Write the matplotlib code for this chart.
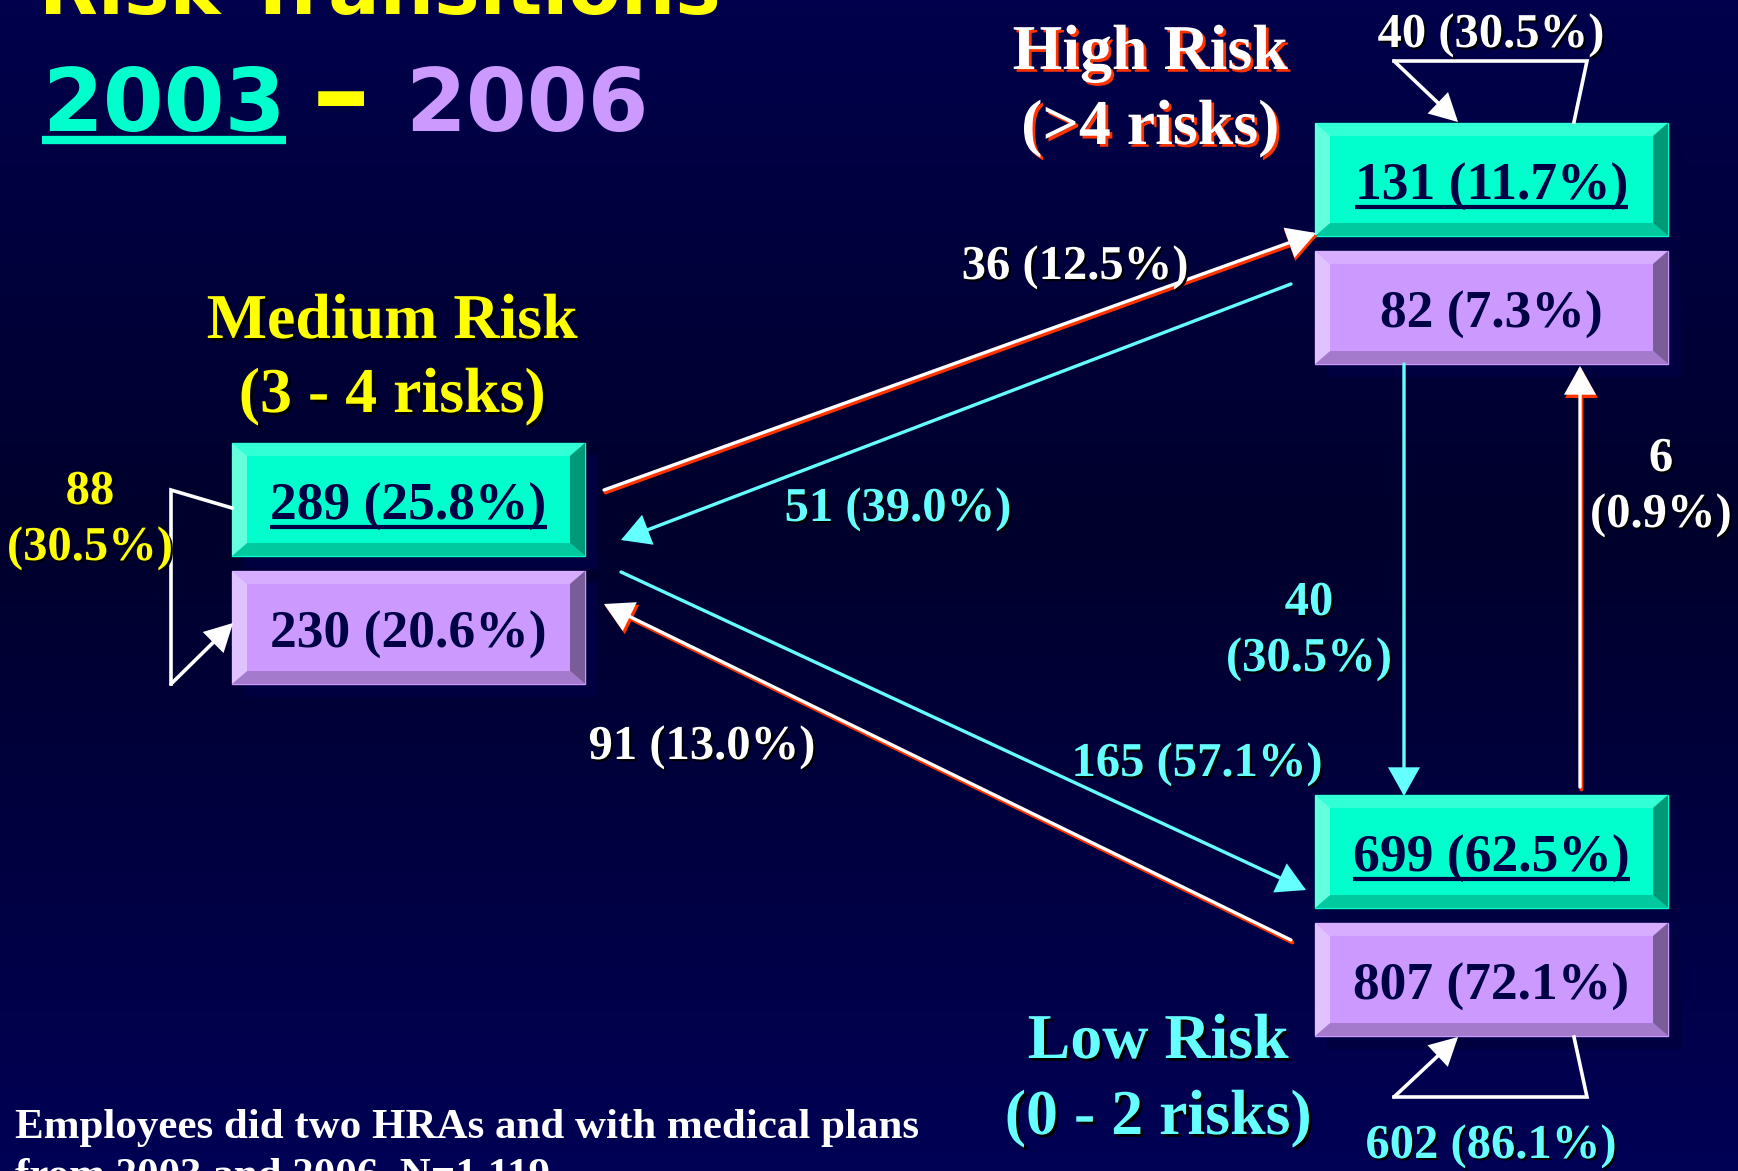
import numpy as np
import matplotlib
matplotlib.use('Agg')
import matplotlib.pyplot as plt
from matplotlib.patches import Polygon, Rectangle, FancyArrowPatch
import matplotlib.patheffects as pe

# ---- data ----
levels = ['High', 'Medium', 'Low']
level_names = ['High Risk', 'Medium Risk', 'Low Risk']
level_ranges = ['(>4 risks)', '(3 - 4 risks)', '(0 - 2 risks)']
n_2003 = [131, 289, 699]
pct_2003 = [11.7, 25.8, 62.5]
n_2006 = [82, 230, 807]
pct_2006 = [7.3, 20.6, 72.1]

trans_from = ['High', 'Medium', 'High', 'Medium', 'Medium', 'Low', 'High', 'Low', 'Low']
trans_to = ['High', 'High', 'Medium', 'Medium', 'Low', 'Medium', 'Low', 'High', 'Low']
trans_n = [40, 36, 51, 88, 165, 91, 40, 6, 602]
trans_pct = [30.5, 12.5, 39.0, 30.5, 57.1, 13.0, 30.5, 0.9, 86.1]

title = 'Risk Transitions'
year_a, year_b = '2003', '2006'
footnote = ['Employees did two HRAs and with medical plans',
            'from 2003 and 2006, N=1,119']

# ---- style ----
TEAL = '#00FFCC'
PURPLE = '#CC99FF'
CYAN = '#66FFFF'
YELLOW = '#FFFF00'
NAVY = '#000044'
RED = '#FF3300'
SERIF = 'Liberation Serif'

W, H = 1738, 1171
fig = plt.figure(figsize=(W / 100, H / 100), dpi=100)
ax = fig.add_axes([0, 0, 1, 1])
ax.set_xlim(0, W)
ax.set_ylim(H, 0)
ax.axis('off')

# background: dark navy, a bit darker through the middle
ys = np.linspace(0, 1, 256)
blue = np.interp(ys, [0, 0.45, 1], [0x4c, 0x2c, 0x55]) / 255
bg = np.zeros((256, 1, 3))
bg[:, 0, 2] = blue
ax.imshow(bg, extent=[0, W, H, 0], aspect='auto', zorder=0)

# layout (pixel coordinates, y down)
box_pos = {'High': (1315, 123), 'Medium': (232, 443), 'Low': (1315, 795)}
title_pos = {'High': (1150, 69, 144), 'Medium': (392, 338, 412), 'Low': (1158, 1058, 1134)}
title_col = {'High': 'white', 'Medium': YELLOW, 'Low': CYAN}
title_shadow = {'High': RED, 'Medium': '#000000', 'Low': '#000000'}
BW, BH, GAP = 353, 113, 15


def bevel_box(x, y, face, light_top, light_left, dark_bottom, dark_right):
    bx, by = 15, 13
    ax.add_patch(Rectangle((x + 12, y + 12), BW, BH, color='#000040', zorder=2))
    ax.add_patch(Rectangle((x, y), BW, BH, color=face, zorder=3))
    pts = [(x, y), (x + BW, y), (x + BW, y + BH), (x, y + BH)]
    inn = [(x + bx, y + by), (x + BW - bx, y + by), (x + BW - bx, y + BH - by), (x + bx, y + BH - by)]
    cols = [light_top, dark_right, dark_bottom, light_left]
    for i in range(4):
        j = (i + 1) % 4
        ax.add_patch(Polygon([pts[i], pts[j], inn[j], inn[i]], closed=True,
                             color=cols[i], lw=0, zorder=4))


underlined = []
for k, lv in enumerate(levels):
    x, y = box_pos[lv]
    bevel_box(x, y, TEAL, '#33FFD6', '#66FFDD', '#00C9A0', '#009977')
    bevel_box(x, y + BH + GAP, PURPLE, '#D6ADFF', '#E0C2FF', '#A37ACC', '#7A5C99')
    t = ax.text(x + BW / 2, y + BH / 2 + 20, f'{n_2003[k]} ({pct_2003[k]:.1f}%)',
                ha='center', va='baseline', fontsize=38.5, fontweight='bold',
                family=SERIF, color=NAVY, zorder=6)
    underlined.append(t)
    ax.text(x + BW / 2, y + BH + GAP + BH / 2 + 20, f'{n_2006[k]} ({pct_2006[k]:.1f}%)',
            ha='center', va='baseline', fontsize=38.5, fontweight='bold',
            family=SERIF, color=NAVY, zorder=6)
    tx, ty1, ty2 = title_pos[lv]
    fx = [pe.withSimplePatchShadow(offset=(2, -2), shadow_rgbFace=title_shadow[lv], alpha=1)]
    ax.text(tx, ty1, level_names[k], ha='center', va='baseline', fontsize=46,
            fontweight='bold', family=SERIF, color=title_col[lv], path_effects=fx, zorder=6)
    ax.text(tx, ty2, level_ranges[k], ha='center', va='baseline', fontsize=46,
            fontweight='bold', family=SERIF, color=title_col[lv], path_effects=fx, zorder=6)

# transitions: path, style, label position, label colour, two-line label?
trans_layout = {
    ('High', 'High'): ([(1574, 122), (1587, 61), (1394, 61), (1458, 122)], 'loop', (1491, 47), 'white', False),
    ('Medium', 'High'): ([(604, 490), (1316, 233)], 'whitered', (1075, 279), 'white', False),
    ('High', 'Medium'): ([(1291, 284), (621, 540)], 'cyan', (898, 521), CYAN, False),
    ('Medium', 'Medium'): ([(232, 508), (171, 490), (171, 684), (233, 623)], 'loop', (90, 504), YELLOW, True),
    ('Medium', 'Low'): ([(621, 572), (1306, 890)], 'cyan', (1197, 776), CYAN, False),
    ('Low', 'Medium'): ([(1291, 940), (604, 604)], 'whitered', (702, 759), 'white', False),
    ('High', 'Low'): ([(1404, 364), (1404, 796)], 'cyan', (1309, 615), CYAN, True),
    ('Low', 'High'): ([(1580, 787), (1580, 366)], 'whitered', (1661, 471), 'white', True),
    ('Low', 'Low'): ([(1574, 1037), (1587, 1097), (1394, 1097), (1458, 1037)], 'loop', (1491, 1158), CYAN, False),
}


def arrow(p0, p1, color, lw, z, head=(17, 9.5)):
    a = FancyArrowPatch(p0, p1, arrowstyle=f'-|>,head_length={head[0]},head_width={head[1]}',
                        mutation_scale=1, color=color, lw=lw, shrinkA=0, shrinkB=0,
                        joinstyle='miter', zorder=z)
    ax.add_patch(a)


for f, t, n, p in zip(trans_from, trans_to, trans_n, trans_pct):
    path, style, (lx, ly), lcol, two = trans_layout[(f, t)]
    if style == 'loop':
        xs = [q[0] for q in path[:-1]]
        ys_ = [q[1] for q in path[:-1]]
        ax.plot(xs, ys_, color='white', lw=2.6, solid_joinstyle='miter', zorder=5)
        arrow(path[-2], path[-1], 'white', 2.6, 5, head=(16, 8.5))
    elif style == 'cyan':
        arrow(path[0], path[1], CYAN, 2.4, 5)
    else:
        off = [(q[0] + 1.5, q[1] + 2.5) for q in path]
        arrow(off[0], off[1], RED, 2.8, 5)
        arrow(path[0], path[1], 'white', 2.4, 5)
    sh = [pe.withSimplePatchShadow(offset=(1.5, -1.5), shadow_rgbFace='#000000', alpha=1)]
    if two:
        ax.text(lx, ly, f'{n}', ha='center', va='baseline', fontsize=35, fontweight='bold',
                family=SERIF, color=lcol, path_effects=sh, zorder=7)
        ax.text(lx, ly + 56, f'({p:.1f}%)', ha='center', va='baseline', fontsize=35,
                fontweight='bold', family=SERIF, color=lcol, path_effects=sh, zorder=7)
    else:
        ax.text(lx, ly, f'{n} ({p:.1f}%)', ha='center', va='baseline', fontsize=35,
                fontweight='bold', family=SERIF, color=lcol, path_effects=sh, zorder=7)

# title (top line runs off the top edge, as in the original slide)
ax.text(39, 14, title, ha='left', va='baseline', fontsize=55, fontweight='bold',
        family='DejaVu Sans', color=YELLOW, zorder=6)
t03 = ax.text(42, 131, year_a, ha='left', va='baseline', fontsize=63, fontweight='bold',
              family='DejaVu Sans', color=TEAL, zorder=6)
ax.text(341, 131, '–', ha='center', va='baseline', fontsize=84, fontweight='bold',
        family='DejaVu Sans', color=YELLOW, zorder=6)
ax.text(405, 131, year_b, ha='left', va='baseline', fontsize=63, fontweight='bold',
        family='DejaVu Sans', color=PURPLE, zorder=6)

ax.text(15, 1138, footnote[0], ha='left', va='baseline', fontsize=31, fontweight='bold',
        family=SERIF, color='white', zorder=6)
ax.text(15, 1186, footnote[1], ha='left', va='baseline', fontsize=31, fontweight='bold',
        family=SERIF, color='white', zorder=6)

# underlines for the 2003 values
fig.canvas.draw()
inv = ax.transData.inverted()
for txt in underlined:
    bb = txt.get_window_extent()
    (x0, _), (x1, _) = inv.transform([(bb.x0, 0), (bb.x1, 0)])
    yb = txt.get_position()[1] + 7
    ax.plot([x0, x1], [yb, yb], color=NAVY, lw=3, solid_capstyle='butt', zorder=6)
bb = t03.get_window_extent()
(x0, _), (x1, _) = inv.transform([(bb.x0, 0), (bb.x1, 0)])
ax.plot([x0, x1], [140, 140], color=TEAL, lw=6, solid_capstyle='butt', zorder=6)

fig.savefig('out.png', dpi=100)
